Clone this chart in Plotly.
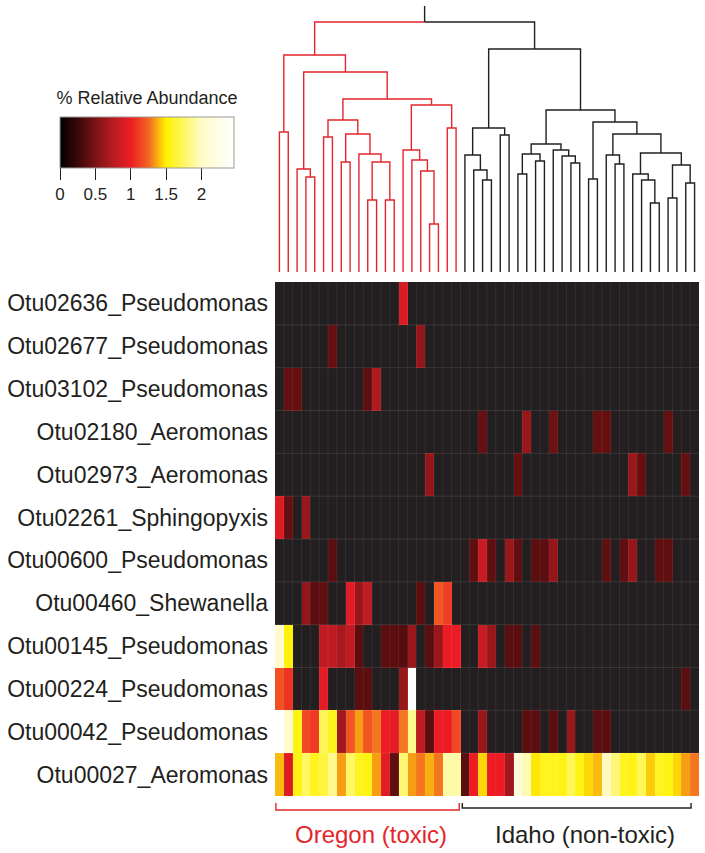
import math
import plotly.graph_objects as go

# ---------------- data ----------------
otu_labels = [
    "Otu02636_Pseudomonas", "Otu02677_Pseudomonas", "Otu03102_Pseudomonas",
    "Otu02180_Aeromonas", "Otu02973_Aeromonas", "Otu02261_Sphingopyxis",
    "Otu00600_Pseudomonas", "Otu00460_Shewanella", "Otu00145_Pseudomonas",
    "Otu00224_Pseudomonas", "Otu00042_Pseudomonas", "Otu00027_Aeromonas",
]
group_names = ["Oregon (toxic)", "Idaho (non-toxic)"]
group_sizes = [21, 27]
n_samples = sum(group_sizes)

# % relative abundance per OTU: {sample column: value}; unlisted samples are 0
otu02636 = {14: 0.90}
otu02677 = {6: 0.42, 16: 0.60}
otu03102 = {1: 0.42, 2: 0.42, 10: 0.40, 11: 0.70}
otu02180 = {23: 0.42, 28: 0.62, 31: 0.45, 36: 0.42, 37: 0.42, 44: 0.42}
otu02973 = {17: 0.60, 27: 0.42, 40: 0.62, 41: 0.42, 46: 0.42}
otu02261 = {0: 0.92, 1: 0.42, 3: 0.62}
otu00600 = {6: 0.38, 22: 0.40, 23: 0.82, 24: 0.40, 26: 0.62, 27: 0.40, 29: 0.38,
            30: 0.38, 31: 0.60, 37: 0.40, 39: 0.40, 40: 0.60, 43: 0.40, 44: 0.40}
otu00460 = {3: 0.60, 4: 0.38, 5: 0.40, 8: 0.95, 9: 0.62, 10: 0.78, 16: 0.38,
            18: 1.20, 19: 1.12}
otu00145 = {0: 2.05, 1: 1.52, 5: 0.78, 6: 0.78, 7: 0.68, 8: 0.78, 9: 0.38,
            12: 0.38, 13: 0.38, 14: 0.35, 15: 0.62, 17: 0.38, 18: 0.62, 19: 1.00,
            20: 1.00, 23: 0.82, 24: 0.62, 26: 0.38, 27: 0.38, 29: 0.38}
otu00224 = {0: 1.18, 1: 1.08, 5: 0.95, 9: 0.38, 10: 0.38, 14: 0.62, 15: 2.46,
            46: 0.38}
otu00042 = {0: 2.44, 1: 2.05, 2: 1.55, 3: 1.15, 4: 1.10, 5: 1.72, 6: 1.58,
            7: 0.65, 8: 1.20, 9: 1.35, 10: 1.20, 11: 1.28, 12: 1.00, 13: 0.95,
            14: 1.28, 15: 1.85, 16: 0.78, 17: 0.38, 18: 1.00, 19: 1.00, 20: 1.15,
            23: 0.62, 28: 0.38, 29: 0.38, 31: 0.38, 33: 0.62, 36: 0.38, 37: 0.38}
otu00027 = {0: 1.40, 1: 0.92, 2: 1.55, 3: 1.75, 4: 1.58, 5: 1.65, 6: 1.85,
            7: 1.35, 8: 1.75, 9: 1.58, 10: 1.55, 11: 1.35, 12: 0.95, 13: 0.40,
            14: 1.78, 15: 1.35, 16: 1.28, 17: 1.38, 18: 1.28, 19: 1.92, 20: 1.92,
            21: 0.38, 22: 1.00, 23: 1.45, 24: 1.00, 25: 1.00, 26: 0.65, 27: 2.15,
            28: 1.95, 29: 1.48, 30: 1.58, 31: 1.58, 32: 1.55, 33: 1.72, 34: 1.55,
            35: 1.45, 36: 1.40, 37: 1.98, 38: 1.80, 39: 1.58, 40: 1.55, 41: 1.72,
            42: 1.43, 43: 1.58, 44: 1.55, 45: 1.45, 46: 1.35, 47: 1.28}
otu_rows = [otu02636, otu02677, otu03102, otu02180, otu02973, otu02261,
            otu00600, otu00460, otu00145, otu00224, otu00042, otu00027]

colorbar_ticks = [0, 0.5, 1, 1.5, 2]
colorbar_ticktext = ["0", "0.5", "1", "1.5", "2"]
z_max = 2.46

# sample dendrogram: (left, right, merge height); ints are sample columns
oregon_tree = (
    (0, 1, 140),
    ((2, (3, 4, 95), 103),
     (((5, 6, 135),
       ((7, 8, 110), (9, ((10, 11, 72), (12, 13, 72), 110), 118), 138),
       152),
      ((14, (15, (16, (17, 18, 48), 101), 112), 122), (19, 20, 144), 167),
      173),
     200),
    217)
idaho_tree = (
    ((21, (22, (23, 24, 92), 102), 117), (25, 26, 137), 144),
    ((((27, 28, 98), (29, 30, 111), 118), (31, (32, (33, 34, 109), 116), 122), 128),
     ((35, 36, 93),
      ((37, (38, 39, 108), 117),
       ((40, (41, (42, 43, 69), 92), 98), ((44, 45, 74), (46, 47, 89), 107), 119),
       138),
      150),
     162),
    223)
root_height = 250
root_stem_top = 266

# ---------------- style ----------------
W, H = 705, 853
RED = "#e4262c"
INK = "#231f20"
FONT = "Liberation Sans, Arial, Helvetica, sans-serif"
hx0, hx1 = 275, 699          # heatmap left/right (px)
hy0, hy1 = 282, 796          # heatmap top/bottom (px)
dend_bottom = 272            # leaf tips of dendrogram (px)

colorscale = [
    [0.0 / z_max, "#000000"],
    [0.25 / z_max, "#3a0808"],
    [0.5 / z_max, "#7a1315"],
    [0.75 / z_max, "#b81c22"],
    [1.0 / z_max, "#ed1c24"],
    [1.25 / z_max, "#f26522"],
    [1.5 / z_max, "#fff200"],
    [2.0 / z_max, "#fffbc8"],
    [1.0, "#ffffff"],
]

z = []
for row in otu_rows:
    z.append([row.get(c) for c in range(n_samples)])

fig = go.Figure()

fig.add_trace(go.Heatmap(
    z=z, x=list(range(n_samples)), y=list(range(len(otu_labels))),
    zmin=0, zmax=z_max, colorscale=colorscale, hoverongaps=False,
    xaxis="x", yaxis="y",
    colorbar=dict(
        orientation="h", x=147 / W, xanchor="center", y=1 - 97 / H, yanchor="top",
        lenmode="pixels", len=174, thicknessmode="pixels", thickness=51,
        xpad=0, ypad=0, outlinewidth=1, outlinecolor="#9a9a9a",
        ticks="outside", ticklen=12, tickwidth=1.4, tickcolor=INK,
        tickvals=colorbar_ticks, ticktext=colorbar_ticktext,
        tickfont=dict(family=FONT, size=17, color=INK),
        title=dict(text="% Relative Abundance", side="top",
                   font=dict(family=FONT, size=18, color=INK)),
    ),
))

# dendrogram segments
def build(node, xs, ys):
    if isinstance(node, int):
        return float(node), 0.0
    left, right, h = node
    xl, hl = build(left, xs, ys)
    xr, hr = build(right, xs, ys)
    xs += [xl, xl, xr, xr, None]
    ys += [hl, h, h, hr, None]
    return (xl + xr) / 2, h

rx, ry, bx, by = [], [], [], []
xo, ho = build(oregon_tree, rx, ry)
xi, hi = build(idaho_tree, bx, by)
x_root = (xo + xi) / 2
rx += [xo, xo, x_root, None]
ry += [ho, root_height, root_height, None]
bx += [x_root, xi, xi, None, x_root, x_root, None]
by += [root_height, root_height, hi, None, root_height, root_stem_top, None]

fig.add_trace(go.Scatter(x=rx, y=ry, mode="lines", line=dict(color=RED, width=1.4),
                         xaxis="x2", yaxis="y2", hoverinfo="skip", showlegend=False))
fig.add_trace(go.Scatter(x=bx, y=by, mode="lines", line=dict(color=INK, width=1.4),
                         xaxis="x2", yaxis="y2", hoverinfo="skip", showlegend=False))

shapes = []
# dark background of heatmap
shapes.append(dict(type="rect", xref="x", yref="y", x0=-0.5, x1=n_samples - 0.5,
                   y0=-0.5, y1=len(otu_labels) - 0.5, fillcolor=INK,
                   line=dict(width=0), layer="below"))
# faint cell grid
for i in range(1, n_samples):
    shapes.append(dict(type="line", xref="x", yref="y", x0=i - 0.5, x1=i - 0.5,
                       y0=-0.5, y1=len(otu_labels) - 0.5,
                       line=dict(color="rgba(255,255,255,0.07)", width=1)))
for j in range(1, len(otu_labels)):
    shapes.append(dict(type="line", xref="x", yref="y", x0=-0.5, x1=n_samples - 0.5,
                       y0=j - 0.5, y1=j - 0.5,
                       line=dict(color="rgba(255,255,255,0.10)", width=1)))

# group brackets and labels
annotations = []
start = 0
bracket_cols = [RED, INK]
bracket_y = [810, 808]
insets = [(0.1, 0.15), (0.2, 0.9)]
label_shift = [0.37, 0.6]
for g, size in enumerate(group_sizes):
    x0 = start - 0.5 + insets[g][0]
    x1 = start + size - 0.5 - insets[g][1]
    yb = 1 - bracket_y[g] / H
    yt = 1 - 803 / H
    shapes.append(dict(type="path", xref="x", yref="paper",
                       path=f"M {x0},{yt} L {x0},{yb} L {x1},{yb} L {x1},{yt}",
                       line=dict(color=bracket_cols[g], width=1.4)))
    annotations.append(dict(text=group_names[g], xref="x", yref="paper",
                            x=start + (size - 1) / 2 + label_shift[g], y=1 - 834 / H,
                            xanchor="center", yanchor="middle", showarrow=False,
                            font=dict(family=FONT, size=24, color=bracket_cols[g])))
    start += size

fig.update_layout(
    width=W, height=H, margin=dict(l=0, r=0, t=0, b=0, autoexpand=False),
    paper_bgcolor="white", plot_bgcolor="white",
    font=dict(family=FONT, color=INK),
    shapes=shapes, annotations=annotations, showlegend=False,
    xaxis=dict(domain=[hx0 / W, hx1 / W], range=[-0.5, n_samples - 0.5],
               visible=False, anchor="y"),
    yaxis=dict(domain=[1 - hy1 / H, 1 - hy0 / H], range=[len(otu_labels) - 0.5, -0.5],
               tickvals=list(range(len(otu_labels))), ticktext=otu_labels,
               showgrid=False, zeroline=False, showline=False, ticks="",
               ticklabelstandoff=6, anchor="x", automargin=False,
               tickfont=dict(family=FONT, size=23, color=INK)),
    xaxis2=dict(domain=[hx0 / W, hx1 / W], range=[-0.5, n_samples - 0.5],
                visible=False, anchor="y2"),
    yaxis2=dict(domain=[1 - dend_bottom / H, 1], range=[0, dend_bottom],
                visible=False, anchor="x2"),
)

fig.write_html("out.html", config={"displayModeBar": False},
               post_script="document.body.style.margin='0';")
